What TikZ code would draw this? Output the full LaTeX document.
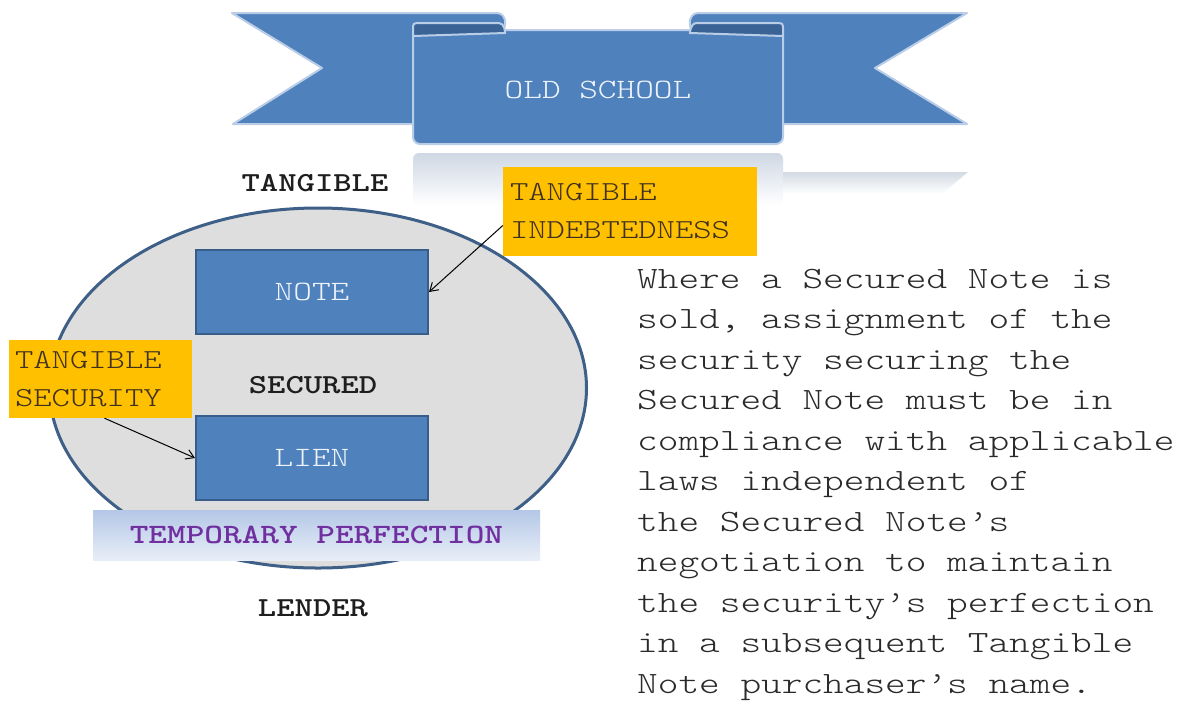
\documentclass[tikz,border=0pt]{standalone}
\usepackage{fontspec}
\newfontfamily\mono{lmmonolt10-regular.otf}[BoldFont=lmmonolt10-bold.otf, FakeStretch=1.27]
\usetikzlibrary{shapes.geometric,arrows.meta}
\definecolor{bannerblue}{HTML}{4F81BD}
\definecolor{bannerline}{HTML}{B9CDE6}
\definecolor{rolldark}{HTML}{3A6396}
\definecolor{boxborder}{HTML}{385D8A}
\definecolor{orangebox}{HTML}{FFC000}
\definecolor{ellfill}{HTML}{DEDEDE}
\definecolor{ellline}{HTML}{3E5F87}
\definecolor{bartop}{HTML}{B4C7E7}
\definecolor{barbot}{HTML}{E8EEF7}
\definecolor{purpletext}{HTML}{7030A0}
\definecolor{darktext}{HTML}{1E1E1E}
\definecolor{graytext}{HTML}{2A2A2A}
\definecolor{browntext}{HTML}{403020}
\definecolor{lighttext}{HTML}{EEF3FA}
\tikzset{
  banner/.style={fill=bannerblue, draw=bannerline, line width=2pt, line join=round},
  bluebox/.style={rectangle, fill=bannerblue, draw=boxborder, line width=2pt, minimum width=232, minimum height=84, inner sep=0pt, text=lighttext, font=\mono\fontsize{28}{34}\selectfont},
  orangelbl/.style={rectangle, fill=orangebox, inner sep=0pt, align=left, text=browntext, font=\mono\fontsize{27.5}{38}\selectfont},
  boldlbl/.style={inner sep=0pt, text=darktext, font=\mono\bfseries\fontsize{27.5}{34}\selectfont},
  pointer/.style={draw=black, line width=1pt, -{Straight Barb[length=8pt,width=10pt]}},
  bodytext/.style={anchor=base west, inner sep=0pt, text=graytext, font=\mono\fontsize{31}{40}\selectfont}
}
\begin{document}
\begin{tikzpicture}[x=1pt,y=-1pt]
\useasboundingbox (0,0) rectangle (1182,710);
\fill[white] (0,0) rectangle (1182,710);
% reflections
\shade[top color=bannerline!80!gray!60, bottom color=white, rounded corners=6] (413,153) rectangle (783,205);
\shade[top color=bannerline!70!gray!50, bottom color=white] (783,172) -- (968,172) -- (942,194) -- (783,194) -- cycle;
% tails
\path[banner] (232,13) -- (497,13) .. controls (508,13) and (508,33) .. (497,33) -- (430,33) -- (430,124) -- (233,124) -- (322,68) -- cycle;
\path[banner] (967,13) -- (698,13) .. controls (687,13) and (687,33) .. (698,33) -- (766,33) -- (766,124) -- (967,124) -- (875,68) -- cycle;
% centre panel
\path[banner, rounded corners=7] (413,30) rectangle (783,144);
% rolls
\path[fill=rolldark, draw=bannerline, line width=2pt] (413,36) -- (413,30) .. controls (413,23) .. (421,23) -- (499,23) .. controls (505,23) and (505,33) .. (505,33) -- cycle;
\path[fill=rolldark, draw=bannerline, line width=2pt] (783,36) -- (783,30) .. controls (783,23) .. (775,23) -- (697,23) .. controls (690,23) and (690,33) .. (690,33) -- cycle;
\node[inner sep=0pt, text=lighttext, font=\mono\fontsize{28}{34}\selectfont] (title) at (598,90) {OLD SCHOOL};
% labels
\node[boldlbl, fill=white, minimum width=170, minimum height=40] (tangible) at (315,183) {TANGIBLE};
% ellipse
\node[ellipse, fill=ellfill, draw=ellline, line width=3pt, minimum width=537, minimum height=360, inner sep=0pt] (ell) at (318,388) {};
\node[bluebox] (note) at (312,292) {NOTE};
\node[bluebox] (lien) at (312,458) {LIEN};
\node[boldlbl] (secured) at (313,385) {SECURED};
\node[orangelbl, minimum width=254, minimum height=89, text width=240] (indebt) at (630,211.5) {TANGIBLE\\INDEBTEDNESS};
\node[orangelbl, minimum width=183, minimum height=78, text width=171] (tsec) at (100.5,379) {TANGIBLE\\SECURITY};
\node[rectangle, top color=bartop, bottom color=barbot, minimum width=447, minimum height=50, inner sep=0pt, text=purpletext, font=\mono\bfseries\fontsize{28}{34}\selectfont] (perf) at (316.5,535) {TEMPORARY PERFECTION};
\node[boldlbl] (lender) at (313,608) {LENDER};
% pointers
\draw[pointer] ([yshift=-14pt]indebt.west) -- (note.east);
\draw[pointer] ([xshift=4pt]tsec.south) -- (lien.west);
% body text
\foreach \s [count=\i] in {Where a Secured Note is, {sold, assignment of the}, security securing the, Secured Note must be in, compliance with applicable, laws independent of, the Secured Note’s, negotiation to maintain, the security’s perfection, in a subsequent Tangible, Note purchaser’s name.}
  \node[bodytext] (line\i) at (637,{288.3+40.5*(\i-1)}) {\s};
\end{tikzpicture}
\end{document}
